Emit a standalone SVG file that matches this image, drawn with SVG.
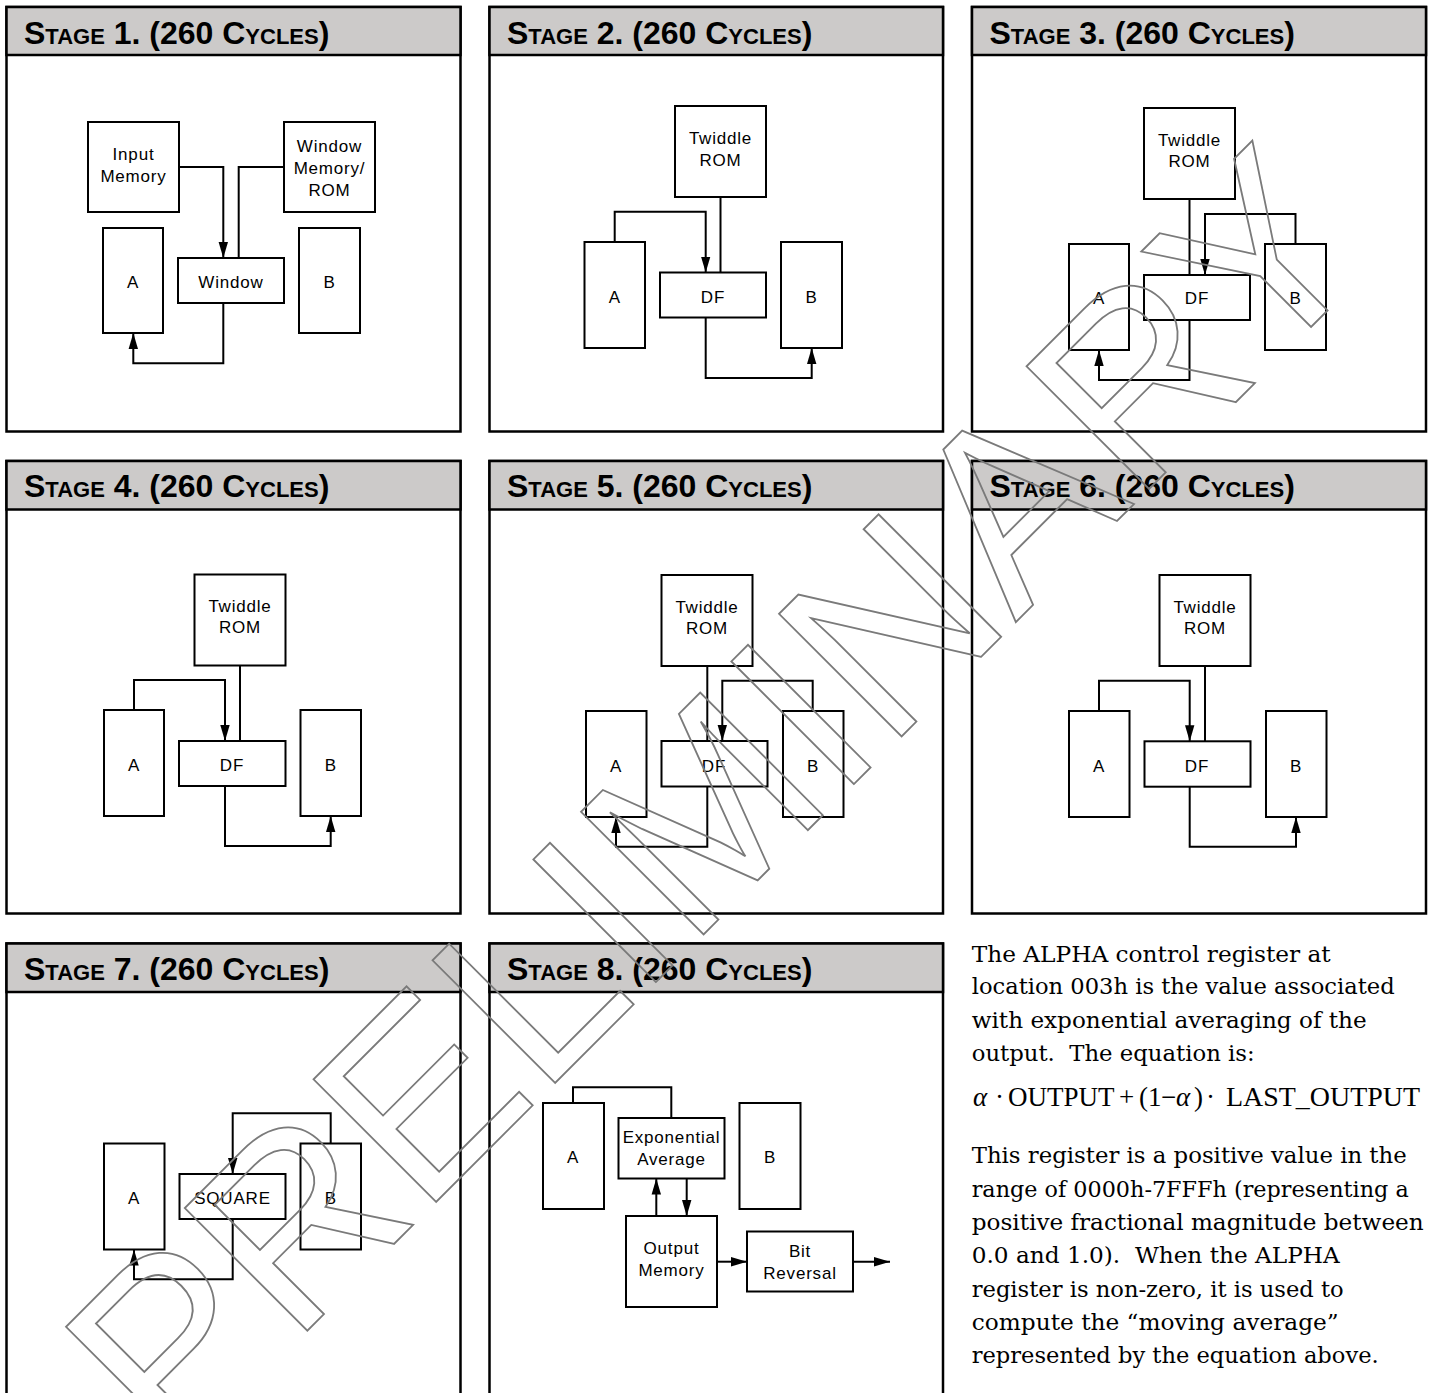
<svg xmlns="http://www.w3.org/2000/svg" width="1429" height="1393" viewBox="0 0 1429 1393">
<style>
.pnl{fill:#fff;stroke:#000;stroke-width:2.5}
.hdr{fill:#cccac9;stroke:#000;stroke-width:2.5}
.ttl{font-family:"Liberation Sans",Arial,sans-serif;font-weight:bold;font-size:32px;fill:#000}
.sc{font-size:22px}
.box{fill:#fff;stroke:#000;stroke-width:2}
.lbl{font-family:"Liberation Sans",Arial,sans-serif;font-size:17px;letter-spacing:0.8px;text-anchor:middle;fill:#000}
.wire{fill:none;stroke:#000;stroke-width:2}
.arr{marker-end:url(#ah)}
.body{font-family:"DejaVu Serif",serif;font-size:23px;fill:#000}
.eq{font-family:"Liberation Serif","Times New Roman",serif;font-size:27px;fill:#000}
.it{font-style:italic}
.wm{font-family:"Liberation Sans",Arial,sans-serif;font-size:252px;fill:none;stroke:#7a7a7a;stroke-width:1.8}
</style>
<defs>
<marker id="ah" viewBox="0 0 16 10" refX="16" refY="5" markerWidth="16" markerHeight="10" markerUnits="userSpaceOnUse" orient="auto">
<path d="M0,0.3 L16,5 L0,9.7 z" fill="#000"/>
</marker>
</defs>
<rect width="1429" height="1393" fill="#fff"/>

<!-- Panels -->
<g id="panel1">
<rect class="pnl" x="6.5" y="7" width="454" height="424.5"/>
<rect class="hdr" x="6.5" y="7" width="454" height="48"/>
<text class="ttl" x="24" y="43.5">S<tspan class="sc">TAGE</tspan> 1. (260 C<tspan class="sc">YCLES</tspan>)</text>
</g>
<g id="panel2">
<rect class="pnl" x="489.5" y="7" width="453.5" height="424.5"/>
<rect class="hdr" x="489.5" y="7" width="453.5" height="48"/>
<text class="ttl" x="507" y="43.5">S<tspan class="sc">TAGE</tspan> 2. (260 C<tspan class="sc">YCLES</tspan>)</text>
</g>
<g id="panel3">
<rect class="pnl" x="972" y="7" width="454" height="424.5"/>
<rect class="hdr" x="972" y="7" width="454" height="48"/>
<text class="ttl" x="989.5" y="43.5">S<tspan class="sc">TAGE</tspan> 3. (260 C<tspan class="sc">YCLES</tspan>)</text>
</g>
<g id="panel4">
<rect class="pnl" x="6.5" y="461" width="454" height="452.5"/>
<rect class="hdr" x="6.5" y="461" width="454" height="48.5"/>
<text class="ttl" x="24" y="497">S<tspan class="sc">TAGE</tspan> 4. (260 C<tspan class="sc">YCLES</tspan>)</text>
</g>
<g id="panel5">
<rect class="pnl" x="489.5" y="461" width="453.5" height="452.5"/>
<rect class="hdr" x="489.5" y="461" width="453.5" height="48.5"/>
<text class="ttl" x="507" y="497">S<tspan class="sc">TAGE</tspan> 5. (260 C<tspan class="sc">YCLES</tspan>)</text>
</g>
<g id="panel6">
<rect class="pnl" x="972" y="461" width="454" height="452.5"/>
<rect class="hdr" x="972" y="461" width="454" height="48.5"/>
<text class="ttl" x="989.5" y="497">S<tspan class="sc">TAGE</tspan> 6. (260 C<tspan class="sc">YCLES</tspan>)</text>
</g>
<g id="panel7">
<rect class="pnl" x="6.5" y="943.5" width="454" height="470"/>
<rect class="hdr" x="6.5" y="943.5" width="454" height="48.5"/>
<text class="ttl" x="24" y="980">S<tspan class="sc">TAGE</tspan> 7. (260 C<tspan class="sc">YCLES</tspan>)</text>
</g>
<g id="panel8">
<rect class="pnl" x="489.5" y="943.5" width="453.5" height="470"/>
<rect class="hdr" x="489.5" y="943.5" width="453.5" height="48.5"/>
<text class="ttl" x="507" y="980">S<tspan class="sc">TAGE</tspan> 8. (260 C<tspan class="sc">YCLES</tspan>)</text>
</g>

<!-- Stage 1 nodes -->
<g id="s1-input"><rect class="box" x="88" y="122" width="91" height="90"/><text class="lbl" x="133.5" y="160">Input</text><text class="lbl" x="133.5" y="182">Memory</text></g>
<g id="s1-winmem"><rect class="box" x="284" y="122" width="91" height="90"/><text class="lbl" x="329.5" y="151.7">Window</text><text class="lbl" x="329.5" y="174">Memory/</text><text class="lbl" x="329.5" y="196">ROM</text></g>
<g id="s1-a"><rect class="box" x="103" y="228" width="60" height="105"/><text class="lbl" x="133" y="287.5">A</text></g>
<g id="s1-window"><rect class="box" x="178" y="258" width="106" height="45"/><text class="lbl" x="231" y="287.5">Window</text></g>
<g id="s1-b"><rect class="box" x="299" y="228" width="61" height="105"/><text class="lbl" x="329.5" y="287.5">B</text></g>

<!-- Stage 2 nodes -->
<g id="s2-tw"><rect class="box" x="675" y="106" width="91" height="91"/><text class="lbl" x="720.5" y="144">Twiddle</text><text class="lbl" x="720.5" y="166">ROM</text></g>
<g id="s2-a"><rect class="box" x="584.5" y="242" width="60.5" height="106"/><text class="lbl" x="614.7" y="302.7">A</text></g>
<g id="s2-df"><rect class="box" x="660" y="272.5" width="106" height="45"/><text class="lbl" x="713" y="302.7">DF</text></g>
<g id="s2-b"><rect class="box" x="781" y="242" width="61" height="106"/><text class="lbl" x="811.5" y="302.7">B</text></g>

<!-- Stage 3 nodes -->
<g id="s3-tw"><rect class="box" x="1144" y="108" width="91" height="91"/><text class="lbl" x="1189.5" y="145.7">Twiddle</text><text class="lbl" x="1189.5" y="167.3">ROM</text></g>
<g id="s3-a"><rect class="box" x="1069" y="244" width="60" height="106"/><text class="lbl" x="1099" y="304.3">A</text></g>
<g id="s3-df"><rect class="box" x="1144" y="275" width="106" height="45"/><text class="lbl" x="1197" y="304.3">DF</text></g>
<g id="s3-b"><rect class="box" x="1265" y="244" width="61" height="106"/><text class="lbl" x="1295.5" y="304.3">B</text></g>

<!-- Stage 4 nodes -->
<g id="s4-tw"><rect class="box" x="194.5" y="574.5" width="91" height="91"/><text class="lbl" x="240" y="611.7">Twiddle</text><text class="lbl" x="240" y="633.3">ROM</text></g>
<g id="s4-a"><rect class="box" x="104" y="710" width="60" height="106"/><text class="lbl" x="134" y="770.7">A</text></g>
<g id="s4-df"><rect class="box" x="179" y="741" width="106.5" height="45"/><text class="lbl" x="232" y="770.7">DF</text></g>
<g id="s4-b"><rect class="box" x="300.5" y="710" width="60.5" height="106"/><text class="lbl" x="330.7" y="770.7">B</text></g>

<!-- Stage 5 nodes -->
<g id="s5-tw"><rect class="box" x="661.5" y="575" width="91" height="91"/><text class="lbl" x="707" y="612.7">Twiddle</text><text class="lbl" x="707" y="634.3">ROM</text></g>
<g id="s5-a"><rect class="box" x="586" y="711" width="60.5" height="106"/><text class="lbl" x="616" y="771.7">A</text></g>
<g id="s5-df"><rect class="box" x="661.5" y="741" width="106" height="45.5"/><text class="lbl" x="714" y="771.7">DF</text></g>
<g id="s5-b"><rect class="box" x="783" y="711" width="60.5" height="106"/><text class="lbl" x="813" y="771.7">B</text></g>

<!-- Stage 6 nodes -->
<g id="s6-tw"><rect class="box" x="1159.5" y="575" width="91" height="91"/><text class="lbl" x="1205" y="612.7">Twiddle</text><text class="lbl" x="1205" y="634.3">ROM</text></g>
<g id="s6-a"><rect class="box" x="1069" y="711" width="60.5" height="106"/><text class="lbl" x="1099" y="771.7">A</text></g>
<g id="s6-df"><rect class="box" x="1144.5" y="741.3" width="106" height="45.4"/><text class="lbl" x="1197" y="771.7">DF</text></g>
<g id="s6-b"><rect class="box" x="1266" y="711" width="60.5" height="106"/><text class="lbl" x="1296" y="771.7">B</text></g>

<!-- Stage 7 nodes -->
<g id="s7-a"><rect class="box" x="104" y="1143.5" width="60.5" height="106"/><text class="lbl" x="134" y="1204">A</text></g>
<g id="s7-sq"><rect class="box" x="179.5" y="1174" width="106" height="45"/><text class="lbl" x="232.5" y="1204">SQUARE</text></g>
<g id="s7-b"><rect class="box" x="300.5" y="1143.5" width="60.5" height="106"/><text class="lbl" x="330.7" y="1204">B</text></g>

<!-- Stage 8 nodes -->
<g id="s8-a"><rect class="box" x="543" y="1103" width="61" height="106"/><text class="lbl" x="573" y="1162.7">A</text></g>
<g id="s8-exp"><rect class="box" x="618.5" y="1118" width="106" height="60.5"/><text class="lbl" x="671.5" y="1143.3">Exponential</text><text class="lbl" x="671.5" y="1165">Average</text></g>
<g id="s8-b"><rect class="box" x="739.5" y="1103" width="61" height="106"/><text class="lbl" x="770" y="1162.7">B</text></g>
<g id="s8-out"><rect class="box" x="626" y="1216" width="91" height="91"/><text class="lbl" x="671.5" y="1254">Output</text><text class="lbl" x="671.5" y="1276">Memory</text></g>
<g id="s8-bit"><rect class="box" x="747" y="1231.5" width="106" height="60"/><text class="lbl" x="800" y="1257.3">Bit</text><text class="lbl" x="800" y="1279">Reversal</text></g>

<!-- Connectors -->
<g id="connectors">
<path class="wire arr" d="M179,167 H223.3 V258"/>
<path class="wire" d="M284,167 H238.7 V258"/>
<path class="wire arr" d="M223.3,303 V363.3 H133.3 V333"/>

<path class="wire arr" d="M614.7,242 V211.7 H705.7 V272.5"/>
<path class="wire" d="M720.5,197 V272.5"/>
<path class="wire arr" d="M705.7,317.5 V378 H811.7 V348"/>

<path class="wire" d="M1189.5,199 V275"/>
<path class="wire arr" d="M1295.5,244 V214 H1205 V275"/>
<path class="wire arr" d="M1189.5,320 V380 H1099 V350"/>

<path class="wire arr" d="M134,710 V680 H225 V741"/>
<path class="wire" d="M240,665.5 V741"/>
<path class="wire arr" d="M225,786 V846 H330.7 V816"/>

<path class="wire" d="M707.3,666 V741"/>
<path class="wire arr" d="M812.7,711 V680.7 H722.3 V741"/>
<path class="wire arr" d="M707.3,786.5 V846.7 H616 V817"/>

<path class="wire arr" d="M1099,711 V680.7 H1189.7 V741.3"/>
<path class="wire" d="M1205,666 V741.3"/>
<path class="wire arr" d="M1189.7,786.7 V846.7 H1296 V817"/>

<path class="wire arr" d="M330.7,1143.5 V1113.3 H232.7 V1174"/>
<path class="wire arr" d="M232.7,1219 V1279.3 H134 V1249.5"/>

<path class="wire" d="M573,1103 V1087.3 H671.3 V1118"/>
<path class="wire arr" d="M656.3,1216 V1178.5"/>
<path class="wire arr" d="M686.7,1178.5 V1216"/>
<path class="wire arr" d="M717,1261.7 H747"/>
<path class="wire arr" d="M853,1261.7 H890"/>
</g>

<!-- Description text -->
<g id="description">
<text class="body" x="971.7" y="961.7" textLength="359" lengthAdjust="spacingAndGlyphs">The ALPHA control register at</text>
<text class="body" x="971.7" y="994.3" textLength="423" lengthAdjust="spacingAndGlyphs">location 003h is the value associated</text>
<text class="body" x="971.7" y="1027.7" textLength="395" lengthAdjust="spacingAndGlyphs">with exponential averaging of the</text>
<text class="body" x="971.7" y="1060.7" textLength="283" lengthAdjust="spacingAndGlyphs">output.&#160; The equation is:</text>
<text class="eq" y="1106"><tspan class="it" x="973">α</tspan><tspan x="995">·</tspan><tspan x="1008">OUTPUT</tspan><tspan x="1119">+</tspan><tspan x="1139">(1</tspan><tspan x="1161">−</tspan><tspan class="it" x="1176">α</tspan><tspan x="1194">)</tspan><tspan x="1206">·</tspan><tspan x="1226" textLength="194" lengthAdjust="spacingAndGlyphs">LAST_OUTPUT</tspan></text>
<text class="body" x="971.7" y="1163" textLength="435" lengthAdjust="spacingAndGlyphs">This register is a positive value in the</text>
<text class="body" x="971.7" y="1196.7" textLength="437" lengthAdjust="spacingAndGlyphs">range of 0000h-7FFFh (representing a</text>
<text class="body" x="971.7" y="1230" textLength="452" lengthAdjust="spacingAndGlyphs">positive fractional magnitude between</text>
<text class="body" x="971.7" y="1263" textLength="368" lengthAdjust="spacingAndGlyphs">0.0 and 1.0).&#160; When the ALPHA</text>
<text class="body" x="971.7" y="1296.7" textLength="372" lengthAdjust="spacingAndGlyphs">register is non-zero, it is used to</text>
<text class="body" x="971.7" y="1330" textLength="367" lengthAdjust="spacingAndGlyphs">compute the “moving average”</text>
<text class="body" x="971.7" y="1363.3" textLength="407" lengthAdjust="spacingAndGlyphs">represented by the equation above.</text>
</g>

<!-- Watermark -->
<text class="wm" transform="translate(174,1464) rotate(-45)">PRELIMINARY</text>
</svg>
